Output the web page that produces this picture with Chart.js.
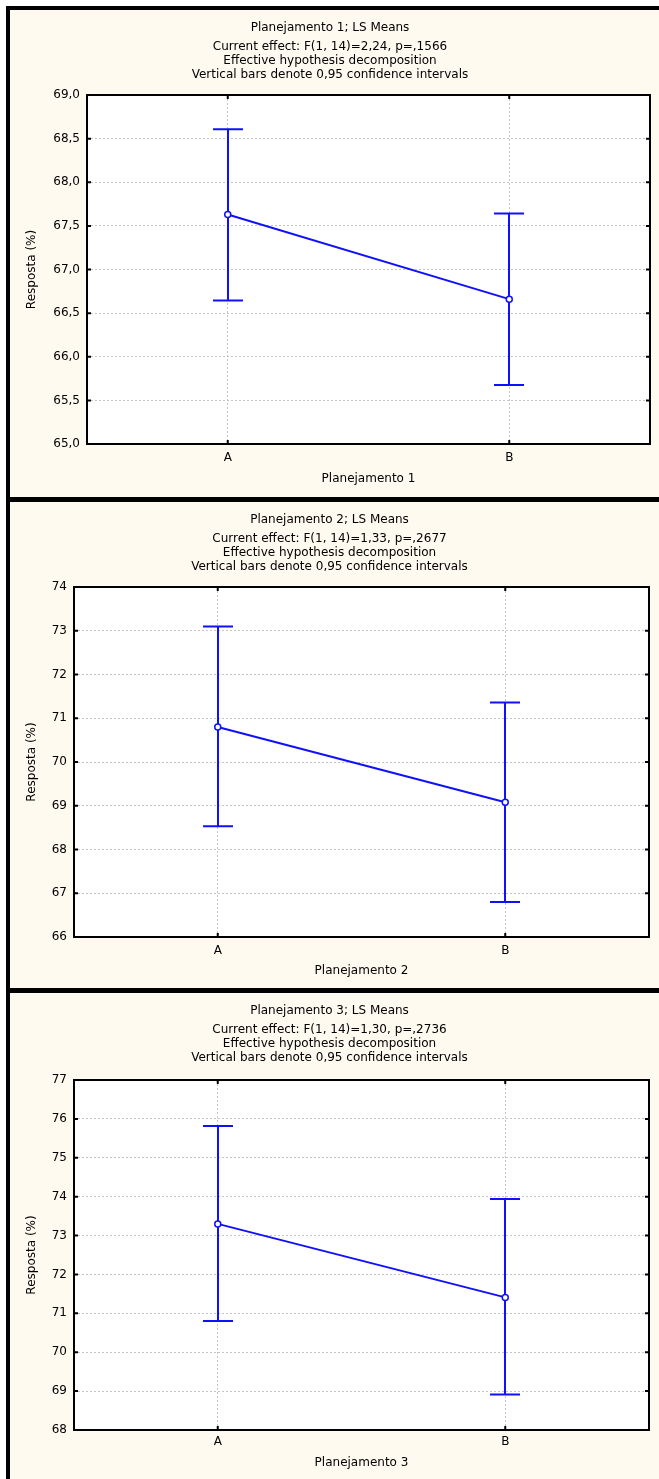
<!DOCTYPE html>
<html>
<head>
<meta charset="utf-8">
<script src="https://cdn.jsdelivr.net/npm/chart.js@4"></script>
<style>
html, body { margin: 0; padding: 0; background: #ffffff; }
#frame { position: absolute; left: 6px; top: 6px; width: 653px; height: 1473px; background: #000000; }
.panel { position: absolute; left: 10px; width: 649px; background: #fffaef; }
canvas { display: block; }
</style>
</head>
<body>
<div id="frame"></div>
<div class="panel" style="top:10px;height:487px"><canvas id="c1" width="649" height="487"></canvas></div>
<div class="panel" style="top:502px;height:486px"><canvas id="c2" width="649" height="486"></canvas></div>
<div class="panel" style="top:993px;height:486px"><canvas id="c3" width="649" height="486"></canvas></div>
<script>
// ---------- data ----------
const categories = ['A', 'B'];

const titles = ['Planejamento 1; LS Means', 'Planejamento 2; LS Means', 'Planejamento 3; LS Means'];
const effects = [
  'Current effect: F(1, 14)=2,24, p=,1566',
  'Current effect: F(1, 14)=1,33, p=,2677',
  'Current effect: F(1, 14)=1,30, p=,2736'
];
const subtitleLines = ['Effective hypothesis decomposition', 'Vertical bars denote 0,95 confidence intervals'];
const xTitles = ['Planejamento 1', 'Planejamento 2', 'Planejamento 3'];
const yTitle = 'Resposta (%)';

const means1 = [67.63, 66.66];
const lower1 = [66.645, 65.676];
const upper1 = [68.607, 67.641];

const means2 = [70.80, 69.08];
const lower2 = [68.53, 66.80];
const upper2 = [73.10, 71.36];

const means3 = [73.30, 71.41];
const lower3 = [70.80, 68.91];
const upper3 = [75.82, 73.94];

const yTicks1 = ['65,0', '65,5', '66,0', '66,5', '67,0', '67,5', '68,0', '68,5', '69,0'];
const yTicks2 = ['66', '67', '68', '69', '70', '71', '72', '73', '74'];
const yTicks3 = ['68', '69', '70', '71', '72', '73', '74', '75', '76', '77'];

// ---------- styling ----------
const BLUE = 'rgb(16,16,255)';
const FONT = 'DejaVu Sans';
const TEXT = '#000000';
const GRID = '#c4c4c4';

const num = s => parseFloat(s.replace(',', '.'));

const plotBg = {
  id: 'plotBg',
  beforeDraw(chart) {
    const { ctx, chartArea: a } = chart;
    ctx.save();
    ctx.fillStyle = '#ffffff';
    ctx.fillRect(a.left, a.top, a.right - a.left, a.bottom - a.top);
    ctx.restore();
  }
};

const errorBars = {
  id: 'errorBars',
  beforeDatasetsDraw(chart, args, opts) {
    const xs = chart.scales.x, ys = chart.scales.y, ctx = chart.ctx;
    ctx.save();
    ctx.strokeStyle = BLUE;
    ctx.lineWidth = 2;
    opts.lower.forEach((lo, i) => {
      const px = Math.round(xs.getPixelForValue(i));
      const yl = ys.getPixelForValue(lo);
      const yu = ys.getPixelForValue(opts.upper[i]);
      ctx.beginPath();
      ctx.moveTo(px, yl); ctx.lineTo(px, yu);
      ctx.moveTo(px - 15, yl); ctx.lineTo(px + 15, yl);
      ctx.moveTo(px - 15, yu); ctx.lineTo(px + 15, yu);
      ctx.stroke();
    });
    ctx.restore();
  }
};

const frame = {
  id: 'frame',
  afterDraw(chart) {
    const { ctx, chartArea: a } = chart;
    const xs = chart.scales.x, ys = chart.scales.y;
    ctx.save();
    ctx.strokeStyle = '#000000';
    ctx.lineWidth = 2;
    ctx.strokeRect(a.left, a.top, a.right - a.left, a.bottom - a.top);
    ctx.beginPath();
    ys.ticks.forEach((t, i) => {
      const py = ys.getPixelForTick(i);
      ctx.moveTo(a.left, py); ctx.lineTo(a.left + 4, py);
      ctx.moveTo(a.right - 4, py); ctx.lineTo(a.right, py);
    });
    xs.ticks.forEach((t, i) => {
      const px = xs.getPixelForTick(i);
      ctx.moveTo(px, a.bottom); ctx.lineTo(px, a.bottom - 4);
      ctx.moveTo(px, a.top); ctx.lineTo(px, a.top + 4);
    });
    ctx.stroke();
    ctx.restore();
  }
};

function makeChart(id, k, means, lower, upper, yTicks, layout) {
  const yMin = num(yTicks[0]);
  const yMax = num(yTicks[yTicks.length - 1]);
  const step = num(yTicks[1]) - yMin;
  return new Chart(document.getElementById(id), {
    type: 'line',
    data: {
      labels: categories,
      datasets: [{
        data: means,
        borderColor: BLUE,
        borderWidth: 2,
        pointRadius: 3,
        pointBorderWidth: 1.5,
        pointBorderColor: BLUE,
        pointBackgroundColor: '#ffffff',
        tension: 0,
        fill: false
      }]
    },
    options: {
      responsive: false,
      animation: false,
      layout: { padding: { top: 0, right: layout.padRight, bottom: 0, left: 0 } },
      plugins: {
        legend: { display: false },
        tooltip: { enabled: false },
        title: {
          display: true,
          text: titles[k],
          color: TEXT,
          font: { family: FONT, size: 12, weight: 'normal', lineHeight: 1.2 },
          padding: { top: 10.8, bottom: 0 }
        },
        subtitle: {
          display: true,
          text: [effects[k]].concat(subtitleLines),
          color: TEXT,
          font: { family: FONT, size: 12, weight: 'normal', lineHeight: 14 / 12 },
          padding: { top: 4.8, bottom: layout.plotTop - 72 }
        },
        errorBars: { lower: lower, upper: upper }
      },
      scales: {
        x: {
          type: 'category',
          offset: true,
          grid: { color: GRID, lineWidth: 1, drawTicks: false },
          border: { display: false, dash: [2, 2] },
          ticks: { color: TEXT, font: { family: FONT, size: 12 }, padding: layout.tickPad },
          title: {
            display: true, text: xTitles[k], color: TEXT,
            font: { family: FONT, size: 12, lineHeight: 1.2 },
            padding: { top: 0, bottom: layout.xTitlePad }
          },
          afterFit(s) { s.height = layout.xHeight; }
        },
        y: {
          min: yMin,
          max: yMax,
          grid: { color: GRID, lineWidth: 1, drawTicks: false },
          border: { display: false, dash: [2, 2] },
          ticks: {
            stepSize: step,
            autoSkip: false,
            color: TEXT,
            font: { family: FONT, size: 12 },
            padding: 7,
            callback: (v, i) => yTicks[i]
          },
          title: {
            display: true, text: yTitle, color: TEXT,
            font: { family: FONT, size: 12, lineHeight: 1.2 },
            padding: { top: 14.8, bottom: 0 }
          },
          afterFit(s) { s.width = layout.yWidth; }
        }
      }
    },
    plugins: [plotBg, errorBars, frame]
  });
}

makeChart('c1', 0, means1, lower1, upper1, yTicks1,
  { plotTop: 85, yWidth: 77, padRight: 9, xHeight: 53, tickPad: 6.8, xTitlePad: 10.8 });
makeChart('c2', 1, means2, lower2, upper2, yTicks2,
  { plotTop: 85, yWidth: 64, padRight: 10, xHeight: 51, tickPad: 6.8, xTitlePad: 9.8 });
makeChart('c3', 2, means3, lower3, upper3, yTicks3,
  { plotTop: 87, yWidth: 64, padRight: 10, xHeight: 49, tickPad: 4.8, xTitlePad: 8.8 });
</script>
</body>
</html>
